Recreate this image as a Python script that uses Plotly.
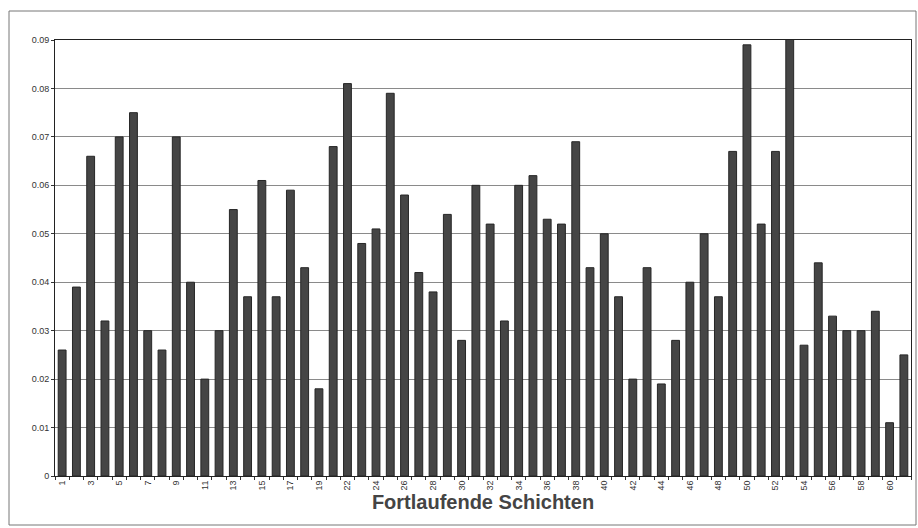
import plotly.graph_objects as go

categories = [str(i) for i in range(1, 20)] + [str(i) for i in range(21, 62)]
values = [0.026, 0.039, 0.066, 0.032, 0.070, 0.075, 0.030, 0.026, 0.070, 0.040,
          0.020, 0.030, 0.055, 0.037, 0.061, 0.037, 0.059, 0.043, 0.018,
          0.068, 0.081, 0.048, 0.051, 0.079, 0.058, 0.042, 0.038, 0.054, 0.028,
          0.060, 0.052, 0.032, 0.060, 0.062, 0.053, 0.052, 0.069, 0.043, 0.050,
          0.037, 0.020, 0.043, 0.019, 0.028, 0.040, 0.050, 0.037, 0.067, 0.089,
          0.052, 0.067, 0.092, 0.027, 0.044, 0.033, 0.030, 0.030, 0.034, 0.011,
          0.025]
y_ticks = [0, 0.01, 0.02, 0.03, 0.04, 0.05, 0.06, 0.07, 0.08, 0.09]
y_tick_labels = ["0", "0.01", "0.02", "0.03", "0.04", "0.05", "0.06", "0.07", "0.08", "0.09"]
x_tick_labels = [c if i % 2 == 0 else "" for i, c in enumerate(categories)]
x_title = "Fortlaufende Schichten"

fig = go.Figure()
fig.add_trace(go.Bar(
    x=categories, y=values,
    marker=dict(color="#454545", line=dict(color="#262626", width=1)),
    width=0.55,
))

W, H = 918, 528
L, R, T, B = 55, 7, 40, 52
pw, ph = W - L - R, H - T - B

fig.update_layout(
    width=W, height=H,
    margin=dict(l=L, r=R, t=T, b=B),
    paper_bgcolor="white", plot_bgcolor="white",
    showlegend=False,
    font=dict(family="Liberation Sans, Arial, sans-serif", color="#333333"),
    xaxis=dict(
        type="category",
        tickvals=categories, ticktext=x_tick_labels,
        tickangle=-90,
        tickfont=dict(size=9, color="#333333"),
        ticks="outside", ticklen=3, tickcolor="#333333",
        tickson="boundaries",
        showgrid=False,
        showline=True, linecolor="#222222", linewidth=1, mirror=True,
        title=dict(text="<b>" + x_title + "</b>", font=dict(size=20, color="#444444"), standoff=1),
    ),
    yaxis=dict(
        range=[0, 0.09],
        tickvals=y_ticks, ticktext=y_tick_labels,
        tickfont=dict(size=9, color="#333333"),
        ticks="outside", ticklen=3, tickcolor="#333333",
        showgrid=True, gridcolor="#8a8a8a", gridwidth=1,
        showline=True, linecolor="#222222", linewidth=1, mirror=True,
        zeroline=False,
    ),
    shapes=[dict(
        type="rect", xref="paper", yref="paper",
        x0=(9 - L) / pw, x1=(916 - L) / pw,
        y0=-(525 - (H - B)) / ph, y1=((H - B) - 11) / ph,
        line=dict(color="#777777", width=1), fillcolor="rgba(0,0,0,0)",
        layer="below",
    )],
)

fig.write_html("out.html", config={"displayModeBar": False},
               post_script="document.body.style.margin='0';document.body.style.overflow='hidden';")
